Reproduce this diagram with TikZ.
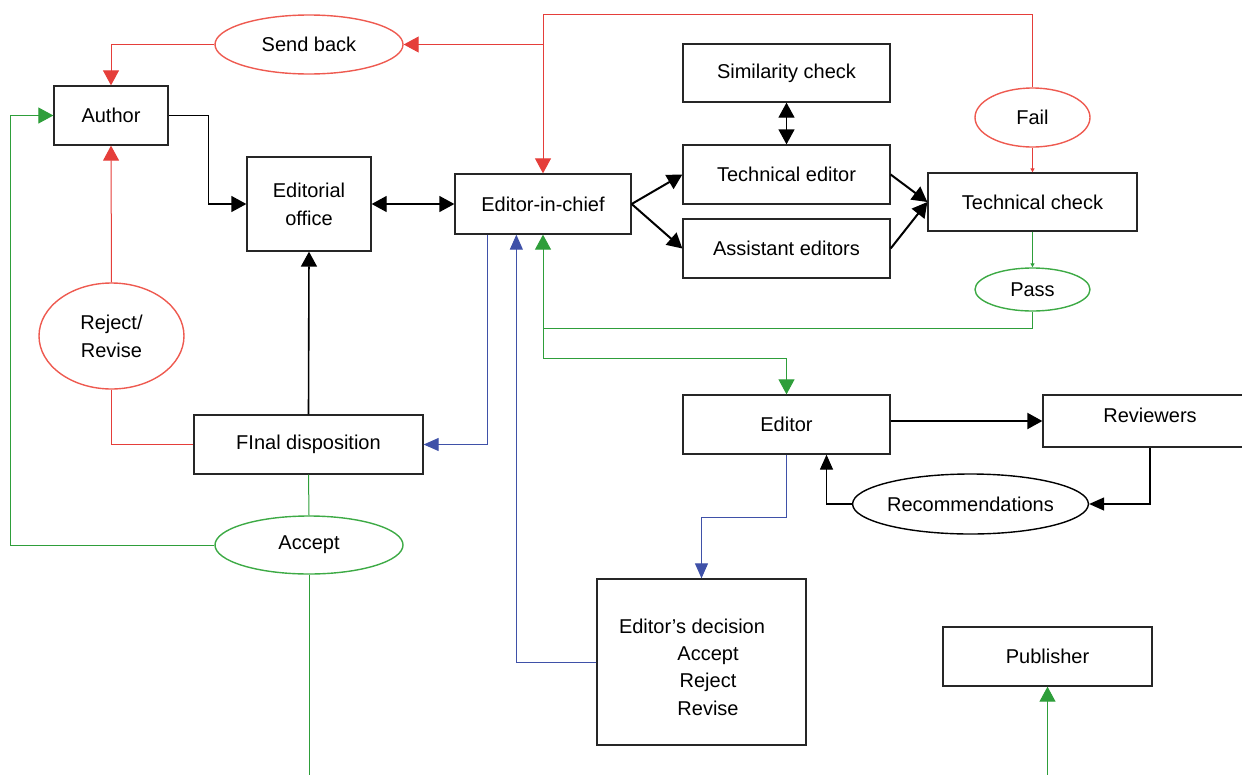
\documentclass[tikz,border=0pt]{standalone}
\usepackage{fontspec}
\setmainfont{Liberation Sans}
\usetikzlibrary{shapes.geometric,arrows.meta,calc}
\definecolor{cred}{HTML}{E53E3A}
\definecolor{ered}{HTML}{EE5A50}
\definecolor{cgreen}{HTML}{2E9E3A}
\definecolor{egreen}{HTML}{3DAA45}
\definecolor{cblue}{HTML}{3F51A8}
\newcommand{\fsz}{\fontsize{20}{28}\selectfont}
\tikzset{
  box/.style={draw=black!85, line width=1.3pt, rectangle, inner sep=0pt, font=\fsz, align=center},
  ell/.style={ellipse, inner sep=0pt, line width=1.4pt, font=\fsz, align=center},
  txt/.style={inner sep=0pt, font=\fsz, anchor=base},
  arr/.style={-{Triangle[length=15pt,width=16pt]}},
  barr/.style={-{Triangle[length=15pt,width=13pt]}},
  darr/.style={{Triangle[length=15pt,width=16pt]}-{Triangle[length=15pt,width=16pt]}},
  tinyarr/.style={-{Triangle[length=4pt,width=4pt]}},
  rline/.style={draw=cred, line width=1pt},
  gline/.style={draw=cgreen, line width=1pt},
  bline/.style={draw=cblue, line width=1pt},
  kline/.style={draw=black, line width=1.3pt},
}
\begin{document}
\begin{tikzpicture}[x=1pt,y=-1pt]
\useasboundingbox (0,0) rectangle (1242,774);
% nodes
\node[ell, draw=ered, minimum width=188pt, minimum height=59pt] (sendback) at (309,44.5) {Send back};
\node[box, minimum width=114pt, minimum height=59pt] (author) at (111,115.5) {Author};
\node[box, minimum width=124pt, minimum height=94pt] (office) at (309,204) {Editorial\\office};
\node[box, minimum width=176pt, minimum height=60pt] (eic) at (543,204) {Editor-in-chief};
\node[box, minimum width=207pt, minimum height=58pt] (sim) at (786.5,73) {Similarity check};
\node[box, minimum width=207pt, minimum height=59pt] (tech) at (786.5,174.5) {Technical editor};
\node[box, minimum width=207pt, minimum height=59pt] (asst) at (786.5,248.5) {Assistant editors};
\node[box, minimum width=209pt, minimum height=58pt] (tcheck) at (1032.5,202) {Technical check};
\node[ell, draw=ered, minimum width=115pt, minimum height=59pt] (fail) at (1032.5,117.5) {Fail};
\node[ell, draw=egreen, minimum width=115pt, minimum height=43pt] (pass) at (1032.5,289.5) {Pass};
\node[ell, draw=ered, minimum width=145pt, minimum height=106pt] (rr) at (111.5,336) {Reject/\\Revise};
\node[box, minimum width=229pt, minimum height=59pt] (fd) at (308.5,444.5) {FInal disposition};
\node[ell, draw=egreen, minimum width=188pt, minimum height=58pt] (accept) at (309,545) {Accept};
\node[box, minimum width=207pt, minimum height=59pt] (editor) at (786.5,424.5) {Editor};
\node[box, minimum width=214pt, minimum height=52pt] (rev) at (1150,421) {};
\node[txt] (revt) at (1150,422) {Reviewers};
\node[ell, draw=black, minimum width=225pt, minimum height=60pt] (rec) at (970.5,504) {Recommendations};
\node[box, minimum width=209pt, minimum height=166pt] (dec) at (701.5,662) {};
\node[txt] (d1) at (692,633) {Editor’s decision};
\node[txt] (d2) at (708,660) {Accept};
\node[txt] (d3) at (708,687) {Reject};
\node[txt] (d4) at (708,715) {Revise};
\node[box, minimum width=209pt, minimum height=59pt] (pub) at (1047.5,656.5) {Publisher};
% coordinates
\coordinate (rtop) at (543,14.5);
\coordinate (gj) at (543,328);
\coordinate (gk) at (543,358);
\coordinate (gl) at (10,115.5);
\coordinate (accbot) at (309,776);
\coordinate (pubbot) at (1047.5,776);
% red connectors
\draw[rline, arr] (fail.north) |- (rtop) -- (eic.north);
\draw[rline, arr] (eic.north |- sendback.east) -- (sendback.east);
\draw[rline, arr] (sendback.west) -| (author.north);
\draw[rline, tinyarr] (fail.south) -- (tcheck.north);
\draw[rline, arr] (rr.north) -- (author.south);
\draw[rline] (rr.south) |- (fd.west);
% black connectors
\draw[kline, arr] (author.east) -- ++(40,0) |- (office.west);
\draw[kline, darr] (office.east) -- (eic.west);
\draw[kline, line width=2pt, arr] (eic.east) -- (tech.west);
\draw[kline, line width=2pt, arr] (eic.east) -- (asst.west);
\draw[kline, line width=2pt, arr] (tech.east) -- (tcheck.west);
\draw[kline, line width=2pt, arr] (asst.east) -- (tcheck.west);
\draw[kline, darr] (sim.south) -- (tech.north);
\draw[kline, line width=1.6pt, arr] (fd.north) -- (office.south);
\draw[kline, line width=2pt, arr] (rev.west -| editor.east) -- (rev.west);
\draw[kline, barr] (rev.south) |- (rec.east);
\draw[kline, barr] (rec.west) -| ($(editor.south)+(40,0)$);
% green connectors
\draw[gline, tinyarr] (tcheck.south) -- (pass.north);
\draw[gline, arr] (pass.south) |- (gj) -- (eic.south);
\draw[gline, arr] (gj) -- (gk) -| (editor.north);
\draw[gline, arr] (accept.west) -| (gl) -- (author.west);
\draw[gline] (fd.south) -- (accept.north);
\draw[gline] (accept.south) -- (accbot);
\draw[gline, arr] (pubbot) -- (pub.south);
% blue connectors
\draw[bline, barr] ($(eic.south west)+(33,0)$) |- (fd.east);
\draw[bline, barr] (dec.west) -| ($(eic.south west)+(62,0)$);
\draw[bline, barr] (editor.south) -- ++(0,63) -| (dec.north);
\end{tikzpicture}
\end{document}
